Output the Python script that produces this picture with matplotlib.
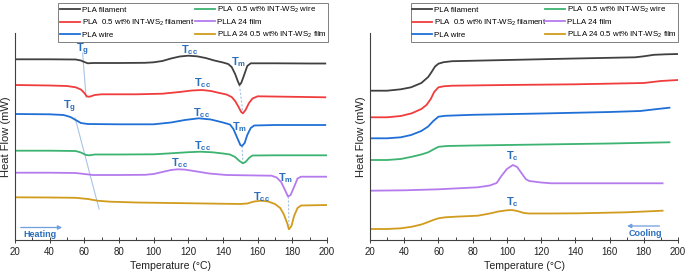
import matplotlib
matplotlib.use("Agg")
import matplotlib.pyplot as plt
import numpy as np

# ---------------- data (temperature °C, offset heat flow in arbitrary units) -------------
# Heating curves (left panel)
heat_pla_fil_T = [20, 40, 55, 58, 60, 62, 65, 80, 95, 100, 105, 110, 115, 120, 125, 130, 135, 140, 143, 145, 147, 148.5, 149.5, 150.5, 152, 154, 156, 170, 190, 199]
heat_pla_fil_y = [59.3, 59.3, 59.5, 60.5, 62, 63.3, 63, 63, 62.8, 62.3, 61, 58.5, 56.5, 55.7, 56.3, 58, 60.5, 62.5, 64, 67, 74, 81, 85, 83, 76, 66, 63.3, 63.3, 63.5, 63.5]

heat_ws_fil_T = [20, 40, 50, 55, 58, 60, 61.5, 63, 66, 70, 90, 105, 115, 122, 128, 133, 138, 142, 145, 147, 149, 150.5, 151.5, 153, 155, 157, 160, 180, 199]
heat_ws_fil_y = [85, 85.5, 86, 87.3, 89.5, 93, 96.5, 96.7, 95, 94.3, 94.3, 93.7, 92, 90.5, 90, 91, 93, 94.5, 97, 101, 107, 112, 113.3, 110, 103, 98.5, 96.3, 96.8, 97.3]

heat_pla_wire_T = [20, 40, 48, 52, 55, 58, 62, 80, 100, 110, 118, 126, 133, 140, 144, 146, 148, 150, 151, 152.5, 154, 156, 158, 170, 199]
heat_pla_wire_y = [114, 114.3, 115, 117, 120, 123, 124, 124.3, 124.3, 122.5, 120, 118.3, 119.5, 122.5, 124.5, 129, 137, 145, 146, 143, 135, 128, 125.5, 125, 125]

heat_ws_wire_T = [20, 40, 55, 58, 61, 63, 66, 80, 100, 110, 120, 127, 134, 140, 144, 147, 149.5, 151.5, 153, 155, 157, 170, 200]
heat_ws_wire_y = [150.7, 150.7, 151, 152.5, 155, 155.3, 154.5, 154.5, 154.3, 153.3, 152.2, 151.7, 152.3, 153.5, 154.5, 157, 161, 163.3, 162, 158, 155.5, 155.3, 155.3]

heat_plla_T = [20, 40, 55, 60, 65, 80, 95, 100, 105, 110, 114, 118, 125, 132, 142, 160, 168, 171, 173.5, 175.5, 177.5, 179, 181, 183, 185, 200]
heat_plla_y = [172.7, 172.7, 173, 174, 175, 175, 174.8, 174, 172, 170, 169.3, 169.6, 171.5, 173.5, 175, 175.5, 175.7, 177.5, 182, 189, 196.5, 195, 187, 178.5, 176.7, 176.7]

heat_plla_ws_T = [20, 40, 55, 62, 68, 75, 90, 110, 130, 150, 154, 158, 162, 166, 170, 173, 175, 177, 178, 179.5, 181, 183, 185, 200]
heat_plla_ws_y = [197.3, 197.5, 197.8, 199, 200.8, 201.7, 202.5, 203, 203.5, 204, 203.5, 201.5, 200.7, 201.5, 204, 208, 214, 223, 229.3, 226, 216, 208, 205.5, 205]

# Cooling curves (right panel)
cool_pla_fil_T = [20, 30, 38, 44, 50, 54, 56, 58, 60, 63, 68, 100, 140, 175, 180, 186, 193, 200]
cool_pla_fil_y = [90.7, 90.7, 89.3, 87.3, 83, 77, 72, 66.5, 63.7, 62.2, 61.2, 60, 58.5, 57.3, 56.3, 54.8, 54.3, 54]

cool_ws_fil_T = [20, 30, 38, 44.4, 50, 53, 55.5, 57.5, 60, 63, 68, 100, 140, 180, 190, 200]
cool_ws_fil_y = [117.3, 117.3, 116, 113.3, 109, 105, 99, 92, 87.3, 86.3, 85.7, 85, 84.3, 83, 81, 80]

cool_pla_wire_T = [20, 30, 38, 44, 50, 54, 57, 60, 64, 80, 120, 160, 178, 188, 195]
cool_pla_wire_y = [138.3, 138.3, 137.3, 135, 131, 126.5, 121, 116.7, 115.8, 114.8, 113.5, 112, 111, 109, 107.7]

cool_ws_wire_T = [20, 30, 38, 44.6, 50, 54, 57, 60, 65, 80, 120, 160, 195]
cool_ws_wire_y = [160, 160, 159, 156.7, 154.5, 152.3, 149.5, 146.8, 146, 145.5, 144.5, 143.5, 142.3]

cool_plla_T = [20, 40, 60, 83, 90, 94, 97, 100, 103.5, 106, 108.5, 111, 113, 120, 126, 160, 191]
cool_plla_y = [190.7, 190.3, 189.3, 187.3, 185.5, 183, 175.5, 169, 165, 167, 173, 179, 181, 182.5, 183.3, 183.3, 183.3]

cool_plla_ws_T = [20, 30, 38, 44.6, 50, 54, 57, 60, 64, 70, 83, 90, 95, 100, 103, 106, 110, 113, 125, 142, 170, 191]
cool_plla_ws_y = [229, 229, 228.3, 226.7, 224.5, 222, 220, 218.3, 217.3, 216.7, 215.7, 213.5, 211.5, 210.3, 210, 211, 213, 213.5, 213.5, 213.3, 212.3, 210.7]

labels = ["PLA filament", "PLA  0.5 wt% INT-WS$_2$ filament", "PLA wire",
          "PLA  0.5 wt% INT-WS$_2$ wire", "PLLA 24 film", "PLLA 24 0.5 wt% INT-WS$_2$ film"]
colors = ["#404040", "#f03c3c", "#1f6fd6", "#3cb371", "#b57bee", "#d19c1d"]

# annotations: (text, T, y)
heat_annots = [("T$_\\mathregular{g}$", 58.7, 50), ("T$_\\mathregular{cc}$", 121, 50), ("T$_\\mathregular{m}$", 149.2, 62),
               ("T$_\\mathregular{cc}$", 128.5, 83), ("T$_\\mathregular{g}$", 51.7, 107), ("T$_\\mathregular{cc}$", 127.9, 113),
               ("T$_\\mathregular{m}$", 149.8, 127), ("T$_\\mathregular{cc}$", 128.5, 146), ("T$_\\mathregular{cc}$", 115.2, 163),
               ("T$_\\mathregular{m}$", 176.3, 178), ("T$_\\mathregular{cc}$", 162.5, 197)]
cool_annots = [("T$_\\mathregular{c}$", 103, 156), ("T$_\\mathregular{c}$", 103, 202)]

tg_line1_T, tg_line1_y = [59, 61], [53, 97]
tg_line2_T, tg_line2_y = [54.7, 68.5], [118, 209]
tm_line1_T, tm_line1_y = [149.5, 151.5], [85, 113.3]
tm_line2_T, tm_line2_y = [151, 151.5], [146, 163.3]
tm_line3_T, tm_line3_y = [177.7, 178.1], [196.5, 229.3]

# ---------------- figure -------------
W, H = 685, 274
fig = plt.figure(figsize=(W / 100, H / 100), dpi=100)
plt.rcParams['font.family'] = ['Liberation Sans', 'DejaVu Sans']
plt.rcParams['mathtext.fontset'] = 'custom'
plt.rcParams['mathtext.rm'] = 'Liberation Sans'
plt.rcParams['mathtext.it'] = 'Liberation Sans'
plt.rcParams['mathtext.bf'] = 'Liberation Sans:bold'

def ax_rect(x0, x1, y0, y1):
    return [x0 / W, 1 - y1 / H, (x1 - x0) / W, (y1 - y0) / H]

axL = fig.add_axes(ax_rect(15, 327, 33, 240))
axR = fig.add_axes(ax_rect(370, 678, 33, 240))

heat = [(heat_pla_fil_T, heat_pla_fil_y), (heat_ws_fil_T, heat_ws_fil_y), (heat_pla_wire_T, heat_pla_wire_y),
        (heat_ws_wire_T, heat_ws_wire_y), (heat_plla_T, heat_plla_y), (heat_plla_ws_T, heat_plla_ws_y)]
cool = [(cool_pla_fil_T, cool_pla_fil_y), (cool_ws_fil_T, cool_ws_fil_y), (cool_pla_wire_T, cool_pla_wire_y),
        (cool_ws_wire_T, cool_ws_wire_y), (cool_plla_T, cool_plla_y), (cool_plla_ws_T, cool_plla_ws_y)]

lab_col = "#2a6ebb"
for ax, data in ((axL, heat), (axR, cool)):
    for (T, y), c, lab in zip(data, colors, labels):
        ax.plot(T, -np.array(y), color=c, lw=1.3, label=lab, solid_joinstyle='round')
    ax.set_xlim(20, 200)
    ax.set_ylim(-240, -33)
    ax.set_xticks(np.arange(20, 201, 20))
    ax.set_xticks(np.arange(30, 200, 20), minor=True)
    ax.set_yticks([])
    for s in ('top', 'right'):
        ax.spines[s].set_visible(False)
    for s in ('left', 'bottom'):
        ax.spines[s].set_color('#404040')
        ax.spines[s].set_linewidth(0.8)
    ax.tick_params(axis='x', which='major', direction='inout', length=4, width=0.7, labelsize=7, pad=3, colors='#404040', labelcolor='#222222')
    ax.tick_params(axis='x', which='minor', direction='in', length=2.5, width=0.7, colors='#404040')
    ax.set_xlabel("Temperature (°C)", fontsize=7.6, labelpad=3, color='#222222')
    ax.set_ylabel("Heat Flow (mW)", fontsize=8, labelpad=3, color='#222222')
    if ax is axL:
        bb = (0.139, 0.9696, 0.864, 0.174)
    else:
        bb = (0.132, 0.9696, 0.869, 0.174)
    leg = ax.legend(ncol=2, loc='upper left', fontsize=5.7, frameon=True, fancybox=False,
                    borderaxespad=0, handlelength=2.5, handletextpad=0.25, labelspacing=0.45,
                    columnspacing=0.5, borderpad=0.2, mode='expand', bbox_to_anchor=bb)
    leg.get_frame().set_edgecolor('#606060')
    leg.get_frame().set_linewidth(0.7)
    leg.set_zorder(5)

# Guide lines
axL.plot(tg_line1_T, -np.array(tg_line1_y), color='#a8c4e6', lw=0.8, zorder=1)
axL.plot(tg_line2_T, -np.array(tg_line2_y), color='#a8c4e6', lw=0.8, zorder=1)
for T, y in ((tm_line1_T, tm_line1_y), (tm_line2_T, tm_line2_y), (tm_line3_T, tm_line3_y)):
    axL.plot(T, -np.array(y), color='#a8c4e6', lw=0.8, ls=(0, (2, 1.5)), zorder=1)

for txt, T, y in heat_annots:
    axL.text(T, -y, txt, color=lab_col, fontsize=8, fontweight='bold', ha='center', va='center')
for txt, T, y in cool_annots:
    axR.text(T, -y, txt, color=lab_col, fontsize=8, fontweight='bold', ha='center', va='center')

axL.annotate("", xy=(48.8, -227.5), xytext=(21.7, -227.5),
             arrowprops=dict(arrowstyle='-|>', color='#6f9fdc', lw=0.9, mutation_scale=6))
axL.text(34.4, -234.5, "Heating", color=lab_col, fontsize=6.5, fontweight='bold', ha='center', va='center')
axR.annotate("", xy=(168.6, -226), xytext=(190.8, -226),
             arrowprops=dict(arrowstyle='-|>', color='#6f9fdc', lw=0.9, mutation_scale=6))
axR.text(180.9, -233, "Cooling", color=lab_col, fontsize=6.5, fontweight='bold', ha='center', va='center')

fig.savefig("out.png", dpi=100)
